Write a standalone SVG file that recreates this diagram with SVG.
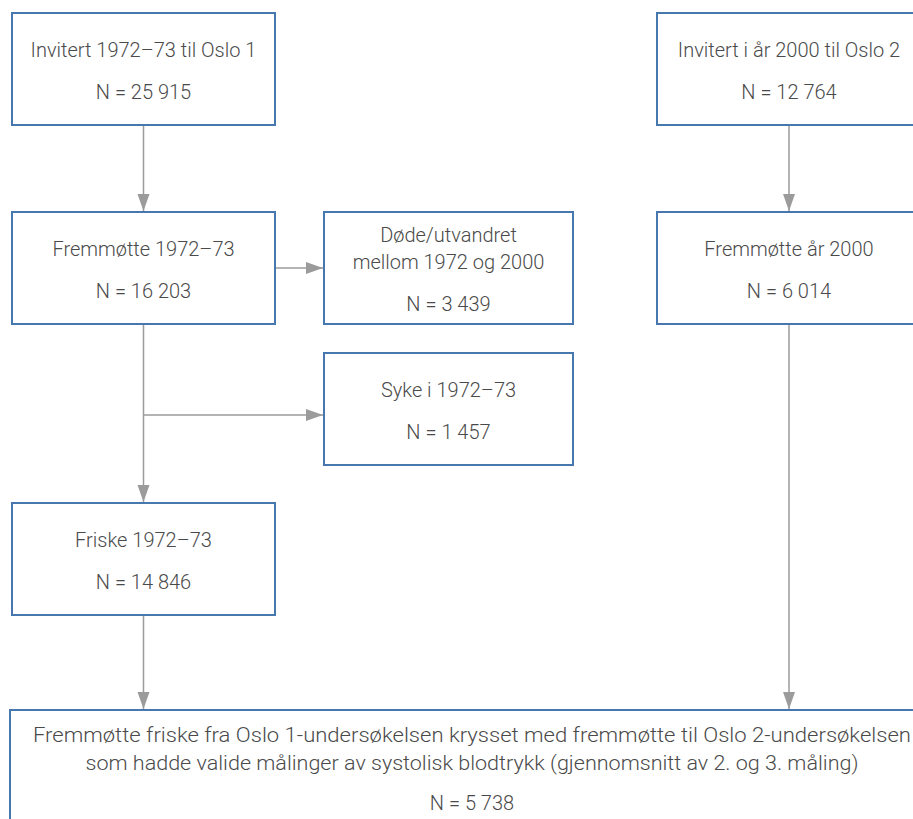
<svg xmlns="http://www.w3.org/2000/svg" width="913" height="819" viewBox="0 0 913 819">
<style>
.box{fill:#fff;stroke:#4677ae;stroke-width:2}
.t{font-family:Roboto,"Liberation Sans",sans-serif;font-weight:300;font-size:20px;fill:#4a4a4a;text-anchor:middle}
.c{fill:none;stroke:#9b9b9b;stroke-width:1.5}
</style>
<defs>
<marker id="ah" markerUnits="userSpaceOnUse" markerWidth="18" markerHeight="14" refX="17" refY="6" orient="auto">
<path d="M0,0 L17,6 L0,12 z" fill="#9b9b9b"/>
</marker>
</defs>
<rect width="913" height="819" fill="#fff"/>
<g id="connectors">
<line class="c" x1="143.5" y1="125" x2="143.5" y2="211" marker-end="url(#ah)"/>
<line class="c" x1="275" y1="268" x2="323" y2="268" marker-end="url(#ah)"/>
<line class="c" x1="143.5" y1="324" x2="143.5" y2="502" marker-end="url(#ah)"/>
<line class="c" x1="143.5" y1="415" x2="323" y2="415" marker-end="url(#ah)"/>
<line class="c" x1="143.5" y1="615" x2="143.5" y2="709" marker-end="url(#ah)"/>
<line class="c" x1="789" y1="125" x2="789" y2="211" marker-end="url(#ah)"/>
<line class="c" x1="789" y1="324" x2="789" y2="709" marker-end="url(#ah)"/>
</g>
<g id="n1">
<rect class="box" x="12" y="13" width="263" height="112"/>
<text class="t" x="143.5" y="57">Invitert 1972–73 til Oslo 1</text>
<text class="t" x="143.5" y="99">N = 25 915</text>
</g>
<g id="n2">
<rect class="box" x="12" y="212" width="263" height="112"/>
<text class="t" x="143.5" y="256">Fremmøtte 1972–73</text>
<text class="t" x="143.5" y="298">N = 16 203</text>
</g>
<g id="n3">
<rect class="box" x="324" y="212" width="249" height="112"/>
<text class="t" x="448.5" y="242">Døde/utvandret</text>
<text class="t" x="448.5" y="269">mellom 1972 og 2000</text>
<text class="t" x="448.5" y="311">N = 3 439</text>
</g>
<g id="n4">
<rect class="box" x="324" y="353" width="249" height="112"/>
<text class="t" x="448.5" y="397">Syke i 1972–73</text>
<text class="t" x="448.5" y="439">N = 1 457</text>
</g>
<g id="n5">
<rect class="box" x="12" y="503" width="263" height="112"/>
<text class="t" x="143.5" y="547">Friske 1972–73</text>
<text class="t" x="143.5" y="589">N = 14 846</text>
</g>
<g id="n6">
<rect class="box" x="657" y="13" width="264" height="112"/>
<text class="t" x="789" y="57">Invitert i år 2000 til Oslo 2</text>
<text class="t" x="789" y="99">N = 12 764</text>
</g>
<g id="n7">
<rect class="box" x="657" y="212" width="264" height="112"/>
<text class="t" x="789" y="256">Fremmøtte år 2000</text>
<text class="t" x="789" y="298">N = 6 014</text>
</g>
<g id="n8">
<rect class="box" x="10" y="710" width="924" height="120"/>
<text class="t" x="472" y="742" textLength="878" lengthAdjust="spacingAndGlyphs">Fremmøtte friske fra Oslo 1-undersøkelsen krysset med fremmøtte til Oslo 2-undersøkelsen</text>
<text class="t" x="472" y="770" textLength="773" lengthAdjust="spacingAndGlyphs">som hadde valide målinger av systolisk blodtrykk (gjennomsnitt av 2. og 3. måling)</text>
<text class="t" x="472" y="810">N = 5 738</text>
</g>
</svg>
